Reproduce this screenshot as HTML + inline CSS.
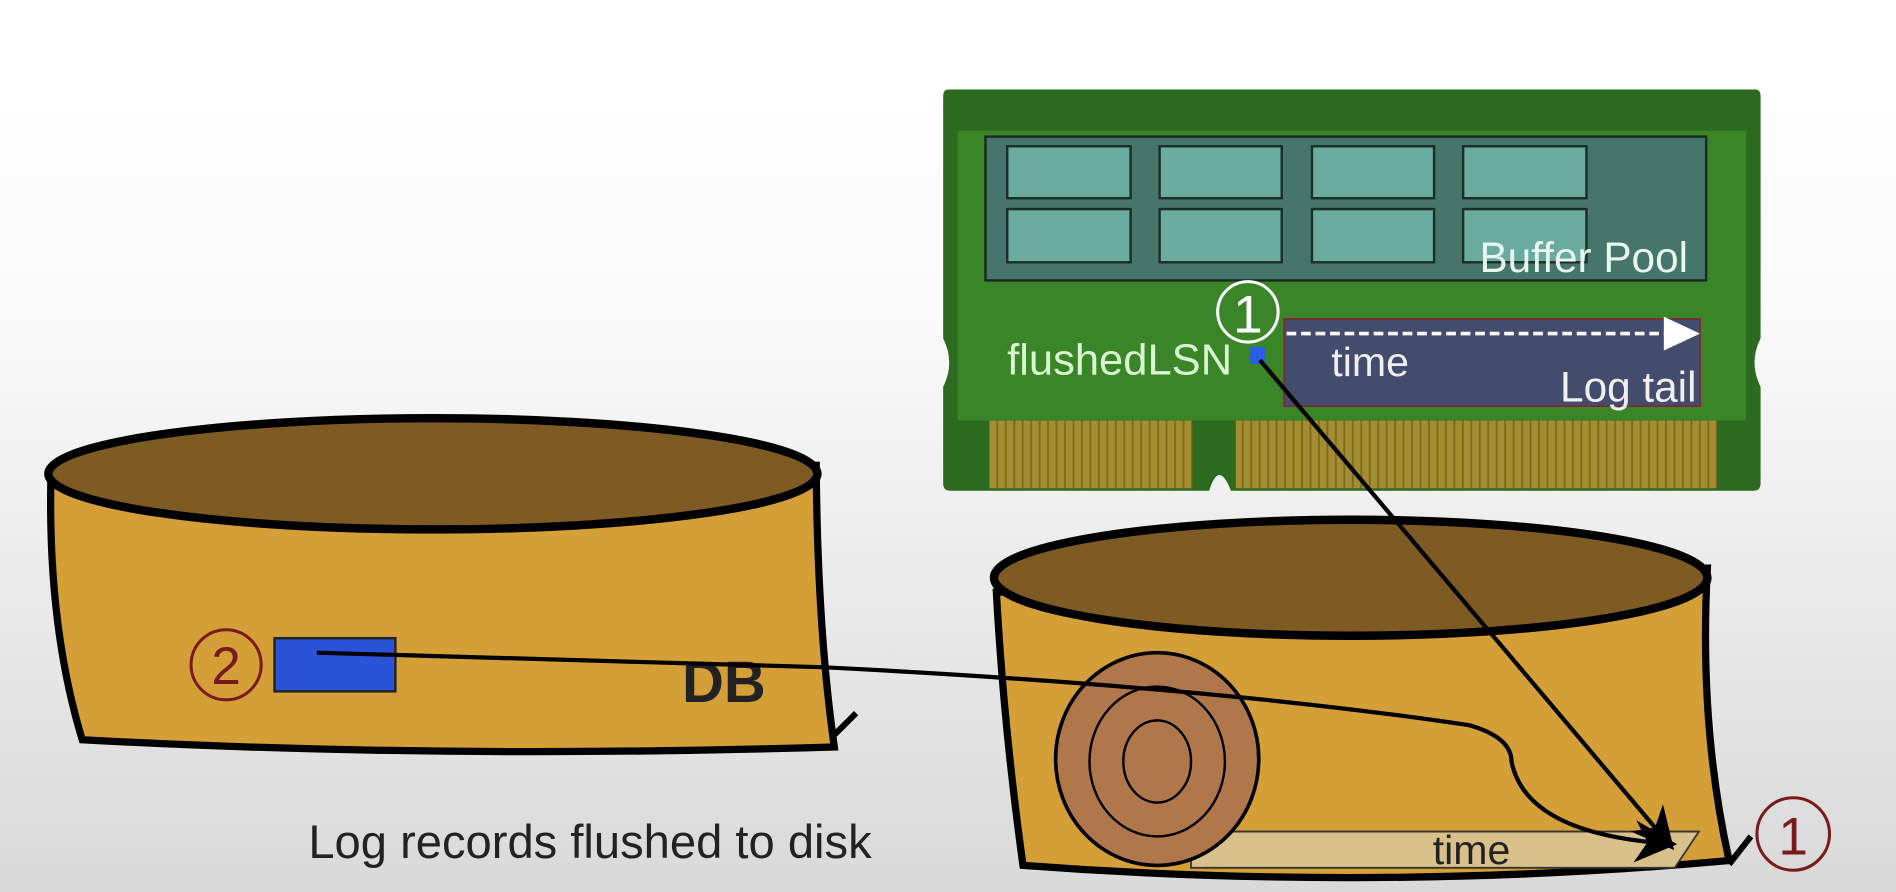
<!DOCTYPE html>
<html><head><meta charset="utf-8"><style>
html,body{margin:0;padding:0;width:1896px;height:892px;overflow:hidden;background:#fff}
svg{display:block}
text{font-family:"Liberation Sans",sans-serif}
</style></head><body>
<svg width="1896" height="892" viewBox="0 0 1568 738" preserveAspectRatio="none">
<defs>
<linearGradient id="bg" x1="0" y1="0" x2="0" y2="1">
<stop offset="0" stop-color="#ffffff"/><stop offset="0.33" stop-color="#fbfbfb"/><stop offset="1" stop-color="#d9d9d9"/>
</linearGradient>
<pattern id="pins" width="7" height="10" patternUnits="userSpaceOnUse">
<rect width="7" height="10" fill="#a48c30"/><rect x="5" width="1.5" height="10" fill="#7a6a22"/>
</pattern>
<marker id="ah" markerWidth="10" markerHeight="10" refX="8" refY="5" orient="auto"><path d="M0,0 L10,5 L0,10 L3,5z" fill="#000"/></marker>
</defs>
<rect width="1568" height="738" fill="url(#bg)"/>

<g>
<path d="M784,74 H1452 Q1456,74 1456,80 V280 Q1446,300 1456,320 V400 Q1456,406 1450,406 H1018 Q1008,380 1000,406 H786 Q780,406 780,400 V320 Q790,300 780,280 V80 Q780,74 784,74z" fill="#2b6a1f"/>
<rect x="792" y="108" width="652" height="240" fill="#3a8528"/>
<rect x="815" y="113" width="596" height="119" fill="#46756c" stroke="#1a2a20" stroke-width="2"/>
<g fill="#6aaba0" stroke="#1d2d28" stroke-width="2">
<rect x="833" y="121" width="102" height="43"/><rect x="959" y="121" width="101" height="43"/><rect x="1085" y="121" width="101" height="43"/><rect x="1210" y="121" width="102" height="43"/>
<rect x="833" y="173" width="102" height="44"/><rect x="959" y="173" width="101" height="44"/><rect x="1085" y="173" width="101" height="44"/><rect x="1210" y="173" width="102" height="44"/>
</g>
<text x="1396" y="225" font-size="35" fill="#e8f8ee" text-anchor="end">Buffer Pool</text>
<rect x="818" y="348" width="168" height="56" fill="url(#pins)"/>
<rect x="1022" y="348" width="398" height="56" fill="url(#pins)"/>
<rect x="1062" y="264" width="344" height="72" fill="#434c6c" stroke="#7a2a3a" stroke-width="1.5"/>
<line x1="1064" y1="276" x2="1380" y2="276" stroke="#fff" stroke-width="3" stroke-dasharray="8,4"/>
<path d="M1376,262 L1406,276 L1376,290z" fill="#fff"/>
<text x="1101" y="311" font-size="34" fill="#f0f0f0">time</text>
<text x="1403" y="332" font-size="35" fill="#f0f0f0" text-anchor="end">Log tail</text>
<text x="1019" y="310" font-size="36" fill="#d8f8d0" text-anchor="end">flushedLSN</text>
<rect x="1034" y="287" width="12" height="14" fill="#2a5ee8"/>
<circle cx="1032" cy="258" r="25" fill="none" stroke="#fff" stroke-width="2.5"/>
<text x="1032" y="275" font-size="44" fill="#fff" text-anchor="middle">1</text>
</g>

<g>
<path d="M42,400 Q40,520 68,612 Q360,628 690,618 Q676,520 675,385 Z" fill="#d59f38" stroke="#000" stroke-width="6"/>
<ellipse cx="358" cy="392" rx="318" ry="46" fill="#7d5b22" stroke="#000" stroke-width="7"/>
<path d="M690,608 L708,590" stroke="#000" stroke-width="5"/>
<text x="564" y="581" font-size="48" font-weight="bold" fill="#222">DB</text>
<rect x="227" y="528" width="100" height="44" fill="#2a54d8" stroke="#222" stroke-width="2"/>
<circle cx="187" cy="550" r="29" fill="none" stroke="#7a1a1a" stroke-width="2.5"/>
<text x="187" y="566" font-size="44" fill="#7a1a1a" text-anchor="middle">2</text>
</g>

<g>
<path d="M824,490 Q830,600 846,716 Q1140,738 1430,712 Q1405,600 1412,470 Z" fill="#d59f38" stroke="#000" stroke-width="6"/>
<ellipse cx="1117" cy="478" rx="295" ry="48" fill="#7d5b22" stroke="#000" stroke-width="7"/>
<path d="M1430,715 L1448,692" stroke="#000" stroke-width="5"/>
<path d="M985,688 H1405 L1385,718 H985z" fill="#d8c08a" stroke="#333" stroke-width="1.5"/>
<text x="1217" y="715" font-size="34" fill="#222" text-anchor="middle">time</text>
<ellipse cx="957" cy="628" rx="84" ry="88" fill="#b0784a" stroke="#000" stroke-width="3"/>
<ellipse cx="957" cy="630" rx="56" ry="62" fill="none" stroke="#000" stroke-width="2"/>
<ellipse cx="957" cy="630" rx="28" ry="34" fill="none" stroke="#000" stroke-width="2"/>
<circle cx="1483" cy="690" r="30" fill="none" stroke="#7a1a1a" stroke-width="2.5"/>
<text x="1483" y="707" font-size="44" fill="#7a1a1a" text-anchor="middle">1</text>
</g>

<path d="M262,540 L680,552 Q1000,568 1215,600 Q1250,610 1250,630 Q1262,690 1380,698" fill="none" stroke="#000" stroke-width="3.5" marker-end="url(#ah)"/>
<line x1="1042" y1="298" x2="1380" y2="698" stroke="#000" stroke-width="3.5" marker-end="url(#ah)"/>

<text x="255" y="710" font-size="39" fill="#222">Log records flushed to disk</text>
</svg>
</body></html>
